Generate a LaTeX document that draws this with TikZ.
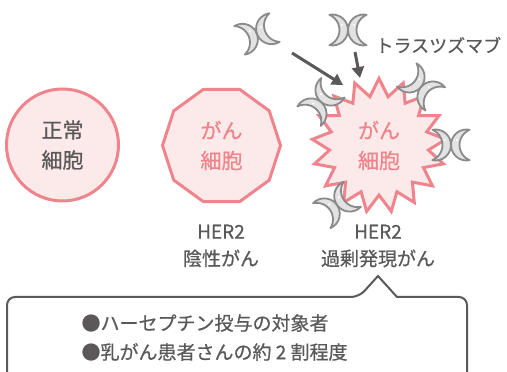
\documentclass[tikz,border=0pt]{standalone}
\usepackage{fontspec}
\setmainfont{Noto Sans CJK JP}[FakeBold=0.6]
\usetikzlibrary{shapes.geometric,arrows.meta}

\definecolor{cellpink}{RGB}{239,132,140}
\definecolor{cellfill}{RGB}{252,233,233}
\definecolor{textgray}{RGB}{90,88,88}
\definecolor{abfill}{RGB}{226,226,226}
\definecolor{abline}{RGB}{138,138,138}

\tikzset{
  cell/.style={draw=cellpink,fill=cellfill,line width=3pt,inner sep=0pt,align=center,font=\fontsize{21}{30}\selectfont},
  tag/.style={align=center,text=textgray,font=\fontsize{19}{27}\selectfont},
  ab/.style={draw=abline,fill=abfill,line width=1.8pt,line join=round},
  antibody/.pic={
    \foreach \m in {1,-1}{
      \begin{scope}[xscale=\m]
        \draw[ab] (-15.5,0) ++(101.5:15.5) arc[start angle=101.5,end angle=-101.5,radius=15.5]
          arc[start angle=-67.1,end angle=67.1,radius=16.5] -- cycle;
        \fill[white] (-6,5) circle (1.2);
      \end{scope}
    }
  }
}

\begin{document}
\begin{tikzpicture}[x=1pt, y=1pt]
  \useasboundingbox (0,0) rectangle (507,372);
  \clip (0,0) rectangle (507,372);

  % Three cells
  \node[cell,circle,minimum size=112,text=textgray] (normal) at (62.5,227) {正常\\細胞};
  \node[cell,regular polygon,regular polygon sides=10,minimum size=118,text=cellpink] (negative) at (221.5,226.5) {がん\\細胞};
  \node[cell,star,star points=17,star point ratio=1.35,minimum size=134,text=cellpink] (positive) at (379,226.5) {がん\\細胞};

  % Trastuzumab around the HER2 cell
  \pic[rotate=20]  at (257,338) {antibody};
  \pic             at (348,342) {antibody};
  \pic[rotate=50]  at (321,270) {antibody};
  \pic[rotate=-40] at (421,285) {antibody};
  \pic             at (451,227) {antibody};
  \pic[rotate=35]  at (337,167) {antibody};

  \node[anchor=west,text=textgray,font=\fontsize{18}{20}\selectfont] (drug) at (372,327) {トラスツズマブ};

  % Arrows onto the cell
  \coordinate (a1) at (292,319);
  \coordinate (a2) at (355,320);
  \draw[-{Triangle[length=11pt,width=12pt]},line width=3pt,textgray] (a1) -- (343,287);
  \draw[-{Triangle[length=11pt,width=12pt]},line width=3pt,textgray] (a2) -- (360,294);

  % Labels under the cells
  \node[tag] (neglabel) at (221,126) {HER2\\陰性がん};
  \node[tag] (poslabel) at (378,126) {HER2\\過剰発現がん};

  % Speech box
  \draw[textgray,line width=2pt] (7,-10) [rounded corners=8pt] -- (7,75) -- (359,75) [sharp corners] -- (poslabel.south |- 0,96) -- (397,75) [rounded corners=8pt] -- (467,75) -- (467,-10);
  \node[anchor=west,align=left,text=textgray,font=\fontsize{19}{29}\selectfont] (note) at (78,34.5) {●ハーセプチン投与の対象者\\●乳がん患者さんの約 2 割程度};
\end{tikzpicture}
\end{document}
